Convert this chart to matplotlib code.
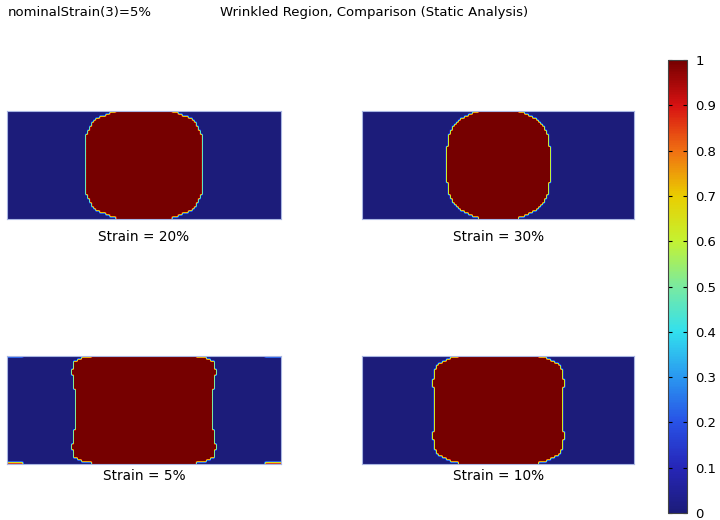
import numpy as np
import matplotlib
matplotlib.use("Agg")
import matplotlib.pyplot as plt
from matplotlib.colors import LinearSegmentedColormap, Normalize
from matplotlib.ticker import FuncFormatter

# Wrinkled-region outlines: half-width of the region (panel height = 1)
# against distance from the top/bottom edge, for each nominal strain.
panel_labels = ["Strain = 20%", "Strain = 30%", "Strain = 5%", "Strain = 10%"]
edge_depth = [
    [0, 0.04, 0.077, 0.148, 0.25, 0.5],
    [0, 0.04, 0.086, 0.148, 0.241, 0.407, 0.5],
    [0, 0.034, 0.071, 0.164, 0.287, 0.5],
    [0, 0.025, 0.071, 0.132, 0.256, 0.5],
]
half_width = [
    [0.241, 0.343, 0.435, 0.5, 0.537, 0.546],
    [0.169, 0.262, 0.355, 0.422, 0.463, 0.484, 0.491],
    [0.454, 0.593, 0.655, 0.664, 0.645, 0.623],
    [0.339, 0.431, 0.54, 0.595, 0.607, 0.595],
]
# wrinkled strips at the four corners (5% case only), length along the edge
corner_strip = [0.0, 0.0, 0.14, 0.0]

panel_width = 2.53
cbar_ticks = [0, 0.1, 0.2, 0.3, 0.4, 0.5, 0.6, 0.7, 0.8, 0.9, 1]

rainbow = LinearSegmentedColormap.from_list("rainbow_dark", [
    (0.0, "#1c1c7a"), (0.1, "#2626b8"), (0.2, "#2852e6"), (0.3, "#2a98f0"),
    (0.4, "#32e0ee"), (0.5, "#7aeaa0"), (0.6, "#c4f232"), (0.7, "#eace00"),
    (0.8, "#f07012"), (0.9, "#d81212"), (1.0, "#760000"),
])


def wrinkle_field(depth, hw, strip, nx=136, ny=54):
    x = (np.arange(nx) + 0.5) / nx * panel_width - panel_width / 2
    y = (np.arange(ny) + 0.5) / ny
    X, Y = np.meshgrid(x, y)
    d = np.minimum(Y, 1 - Y)
    limit = np.interp(d, depth, hw)
    field = (np.abs(X) <= limit).astype(float)
    if strip > 0:
        edge = np.abs(x) >= panel_width / 2 - strip
        field[0, edge] = 0.85
        field[-1, edge] = 0.85
    return field


fig = plt.figure(figsize=(7.2, 5.2), dpi=100)

positions = [
    [0.0101, 0.5788, 0.3797, 0.2083],
    [0.5032, 0.5788, 0.3778, 0.2083],
    [0.0101, 0.1077, 0.3797, 0.2083],
    [0.5032, 0.1077, 0.3778, 0.2083],
]
label_y = [0.544, 0.544, 0.085, 0.085]

norm = Normalize(0, 1)
for i in range(4):
    ax = fig.add_axes(positions[i])
    field = wrinkle_field(edge_depth[i], half_width[i], corner_strip[i])
    ax.imshow(field, cmap=rainbow, norm=norm, aspect="auto",
              interpolation="bilinear", interpolation_stage="data",
              extent=[-panel_width / 2, panel_width / 2, 0, 1], origin="lower")
    ax.set_xticks([])
    ax.set_yticks([])
    for s in ax.spines.values():
        s.set_color("#a9b6e2")
        s.set_linewidth(0.8)
    pos = positions[i]
    fig.text(pos[0] + pos[2] / 2, label_y[i], panel_labels[i],
             ha="center", va="center", fontsize=9.8)

fig.text(0.011, 0.976, "nominalStrain(3)=5%", ha="left", va="center", fontsize=9.5)
fig.text(0.305, 0.976, "Wrinkled Region, Comparison (Static Analysis)",
         ha="left", va="center", fontsize=9.5)

cax = fig.add_axes([0.928, 0.0135, 0.0264, 0.871])
sm = plt.cm.ScalarMappable(norm=norm, cmap=rainbow)
cbar = fig.colorbar(sm, cax=cax, ticks=cbar_ticks)
cbar.outline.set_edgecolor("#444444")
cbar.outline.set_linewidth(0.8)
cax.yaxis.set_ticks_position("both")
cax.tick_params(axis="y", direction="in", length=3, width=0.8,
                labelsize=9.5, labelright=True, labelleft=False, pad=6)
cax.yaxis.set_major_formatter(FuncFormatter(lambda v, p: "%g" % v))

fig.savefig("out.png", dpi=100)
